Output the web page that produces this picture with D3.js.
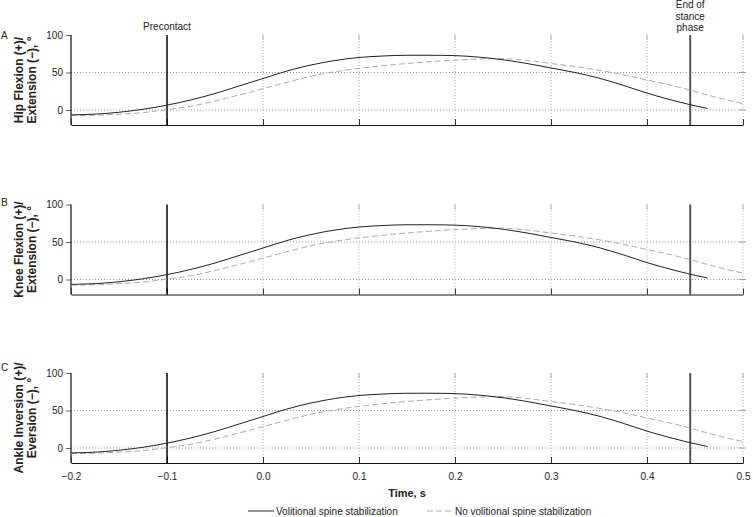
<!DOCTYPE html>
<meta charset="utf-8">
<script src="https://d3js.org/d3.v7.min.js"></script>
<style>
body { margin: 0; background: #fff; }
text { font-family: "Liberation Sans", Arial, sans-serif; fill: #222; }
</style>
<div id="chart"></div>
<script>
// data (same traces in all three panels)
var times = [-0.2, -0.175, -0.15, -0.125, -0.1, -0.075, -0.05, -0.025, 0, 0.025, 0.05, 0.075, 0.1, 0.125, 0.15, 0.175, 0.2, 0.225, 0.25, 0.275, 0.3, 0.325, 0.35, 0.375, 0.4, 0.425, 0.445, 0.463, 0.475, 0.5];
var volitional = [-6.5, -5.5, -3, 1, 6.5, 13.5, 22, 32, 42, 52, 60, 66, 70, 72, 73, 73, 72.5, 70.5, 67, 62, 56, 50, 42.5, 33, 22.5, 13.5, 7, 2, null, null];
var noVolitional = [-7.5, -7, -5.5, -3.5, 0.5, 5, 12, 20, 28.5, 37, 45, 51, 55.5, 59, 62, 64.5, 66.5, 68, 68.5, 66, 62, 58, 53, 47, 40, 33, 26.5, 20, 16, 8.5];
var panels = ["A", "B", "C"];
var yLabels = [["Hip Flexion (+)/", "Extension (\u2212), \u00b0"],
               ["Knee Flexion (+)/", "Extension (\u2212), \u00b0"],
               ["Ankle Inversion (+)/", "Eversion (\u2212), \u00b0"]];
var xTicks = [-0.2, -0.1, 0.0, 0.1, 0.2, 0.3, 0.4, 0.5];
var yTicks = [0, 50, 100];
var precontact = -0.1, endStance = 0.445;

var W = 753, H = 517;
var svg = d3.select("#chart").append("svg").attr("width", W).attr("height", H);

var x = d3.scaleLinear().domain([-0.2, 0.5]).range([71, 743]);
var panelTops = [35, 204.5, 373], ph = 90;

var fmt = function(d) { return d < 0 ? "\u2212" + Math.abs(d).toFixed(1) : d.toFixed(1); };

panels.forEach(function(p, i) {
  var top = panelTops[i];
  var y = d3.scaleLinear().domain([-20, 100]).range([top + ph, top]);
  var g = svg.append("g");

  // horizontal dotted grid
  [0, 50].forEach(function(v) {
    g.append("line").attr("x1", x(-0.2)).attr("x2", x(0.5)).attr("y1", y(v)).attr("y2", y(v))
      .attr("stroke", "#999").attr("stroke-dasharray", "1,2");
    g.append("line").attr("x1", x(0.5) - 4).attr("x2", x(0.5) + 3).attr("y1", y(v)).attr("y2", y(v))
      .attr("stroke", "#999");
  });
  // vertical dotted grid
  [0, 0.1, 0.2, 0.3, 0.4, 0.5].forEach(function(t) {
    g.append("line").attr("x1", x(t)).attr("x2", x(t)).attr("y1", y(100)).attr("y2", y(-20))
      .attr("stroke", "#aaa").attr("stroke-dasharray", "1,2");
    g.append("line").attr("x1", x(t)).attr("x2", x(t)).attr("y1", y(100)).attr("y2", y(100) + 5)
      .attr("stroke", "#aaa");
  });

  // y axis
  var ya = g.append("g").attr("transform", "translate(" + x(-0.2) + ",0)")
    .call(d3.axisLeft(y).tickValues(yTicks).tickSize(5).tickPadding(3));
  ya.select(".domain").remove();
  ya.selectAll(".tick line").attr("stroke", "#666");
  ya.selectAll("text").style("font-size", "10px").attr("fill", "#222");
  g.append("line").attr("x1", x(-0.2)).attr("x2", x(-0.2)).attr("y1", y(100)).attr("y2", y(-20))
    .attr("stroke", "#111").attr("stroke-width", 1.2);

  // x axis
  var xa = g.append("g").attr("transform", "translate(0," + y(-20) + ")")
    .call(d3.axisBottom(x).tickValues(xTicks).tickSize(-6).tickSizeOuter(0).tickPadding(10).tickFormat(fmt));
  xa.select(".domain").attr("stroke", "#111").attr("stroke-width", 1.2);
  xa.selectAll(".tick line").attr("stroke", "#333");
  xa.selectAll("text").style("font-size", "10px").attr("fill", "#222");
  if (i < 2) xa.selectAll("text").remove();

  // event lines
  g.append("line").attr("x1", x(precontact)).attr("x2", x(precontact)).attr("y1", y(100)).attr("y2", y(-20))
    .attr("stroke", "#000").attr("stroke-width", 1.5);
  g.append("line").attr("x1", x(endStance)).attr("x2", x(endStance)).attr("y1", y(100)).attr("y2", y(-20))
    .attr("stroke", "#555").attr("stroke-width", 2);

  // traces
  var line = d3.line().defined(function(d) { return d[1] != null; })
    .x(function(d) { return x(d[0]); }).y(function(d) { return y(d[1]); }).curve(d3.curveMonotoneX);
  g.append("path").datum(times.map(function(t, k) { return [t, noVolitional[k]]; }))
    .attr("d", line).attr("fill", "none").attr("stroke", "#aaa").attr("stroke-width", 1).attr("stroke-dasharray", "6,3");
  g.append("path").datum(times.map(function(t, k) { return [t, volitional[k]]; }))
    .attr("d", line).attr("fill", "none").attr("stroke", "#222").attr("stroke-width", 1);

  // panel letter
  g.append("text").attr("x", 1).attr("y", top + 4 - i * 3).style("font-size", "10px").text(p);

  // y label
  var cy = top + ph / 2;
  yLabels[i].forEach(function(s, k) {
    g.append("text").attr("transform", "translate(" + (19 + k * 13) + "," + cy + ") rotate(-90)")
      .attr("text-anchor", "middle").attr("dy", "0.35em")
      .style("font-size", "12px").style("font-weight", "bold").text(s);
  });
});

// event labels
svg.append("text").attr("x", x(precontact)).attr("y", 30).attr("text-anchor", "middle")
  .style("font-size", "10px").text("Precontact");
["End of", "stance", "phase"].forEach(function(s, k) {
  svg.append("text").attr("x", x(endStance)).attr("y", 8 + k * 11.6).attr("text-anchor", "middle")
    .style("font-size", "10px").text(s);
});

// x title
svg.append("text").attr("x", 407).attr("y", 497).attr("text-anchor", "middle")
  .style("font-size", "11px").style("font-weight", "bold").text("Time, s");

// legend
var lg = svg.append("g");
lg.append("line").attr("x1", 248).attr("x2", 274).attr("y1", 511).attr("y2", 511).attr("stroke", "#222");
lg.append("text").attr("x", 276).attr("y", 514.5).style("font-size", "10px").text("Volitional spine stabilization");
lg.append("line").attr("x1", 427).attr("x2", 453).attr("y1", 511).attr("y2", 511).attr("stroke", "#aaa").attr("stroke-dasharray", "6,3");
lg.append("text").attr("x", 455).attr("y", 514.5).style("font-size", "10px").text("No volitional spine stabilization");
</script>
